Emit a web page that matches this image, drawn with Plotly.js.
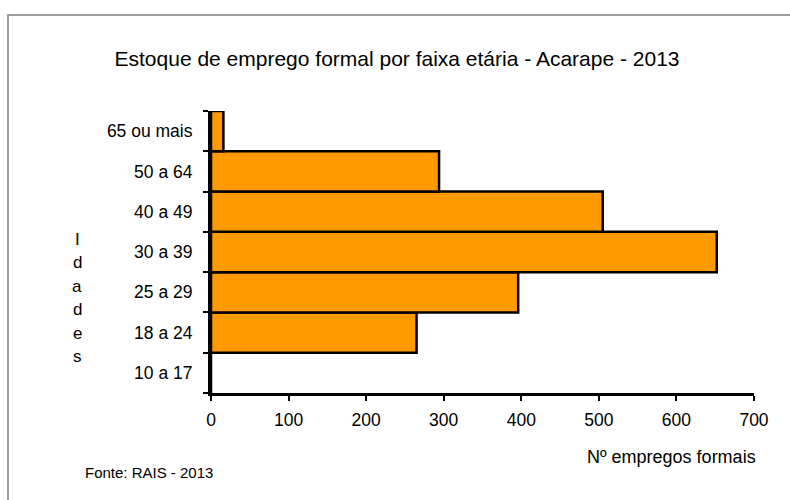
<!DOCTYPE html>
<html>
<head>
<meta charset="utf-8">
<script src="https://cdn.plot.ly/plotly-3.0.1.min.js"></script>
<style>html,body{margin:0;padding:0;background:#fff;}#chart{width:790px;height:500px;}</style>
</head>
<body>
<div id="chart"></div>
<script>
var categories = ["10 a 17", "18 a 24", "25 a 29", "30 a 39", "40 a 49", "50 a 64", "65 ou mais"];
var values = [0, 265, 396, 652, 505, 294, 16];
var xTicks = [0, 100, 200, 300, 400, 500, 600, 700];
var titleText = "Estoque de emprego formal por faixa etária - Acarape - 2013";
var xTitle = "Nº empregos formais";
var yTitle = "Idades";
var sourceText = "Fonte: RAIS - 2013";

var font = "Liberation Sans, Arial, sans-serif";

var trace = {
  type: "bar",
  orientation: "h",
  y: categories,
  x: values,
  marker: {color: "#FF9900", line: {color: "#000000", width: 2.5}},
  hoverinfo: "skip"
};

var annotations = [
  {text: xTitle, xref: "paper", yref: "paper", x: (758 - 211) / 543, y: (393 - 457) / 282, xanchor: "right", yanchor: "middle",
   showarrow: false, font: {family: font, size: 18, color: "#000"}},
  {text: sourceText, xref: "paper", yref: "paper", x: (83 - 211) / 543, y: (393 - 472) / 282, xanchor: "left", yanchor: "middle",
   showarrow: false, font: {family: font, size: 15, color: "#000"}}
];
var letters = yTitle.split("");
for (var i = 0; i < letters.length; i++) {
  var py = 239 + i * 23.5;
  annotations.push({text: letters[i], xref: "paper", yref: "paper", x: (77 - 211) / 543, y: (393 - py) / 282,
    xanchor: "center", yanchor: "middle", showarrow: false, font: {family: font, size: 17, color: "#000"}});
}

var layout = {
  width: 790, height: 500,
  margin: {l: 211, r: 36, t: 111, b: 107},
  paper_bgcolor: "#fff", plot_bgcolor: "#fff",
  showlegend: false,
  bargap: 0,
  title: {text: titleText, xref: "container", yref: "container", x: (113 + 681) / 2 / 790, y: 1 - 59 / 500,
          xanchor: "center", yanchor: "middle", font: {family: font, size: 21, color: "#000"}},
  xaxis: {range: [0, 700], tickvals: xTicks, ticktext: xTicks.map(String), showgrid: false, zeroline: false,
          showline: true, linecolor: "#000", linewidth: 3, ticks: "outside", ticklen: 5, tickwidth: 2, tickcolor: "#000",
          ticklabelstandoff: 4, tickfont: {family: font, size: 17.5, color: "#000"}, fixedrange: true},
  yaxis: {type: "category", categoryorder: "array", categoryarray: categories, showgrid: false, zeroline: false,
          showline: true, linecolor: "#000", linewidth: 3, ticks: "outside", tickson: "boundaries", ticklen: 5, tickwidth: 2,
          tickcolor: "#000", ticklabelstandoff: 12, tickfont: {family: font, size: 17.5, color: "#000"}, fixedrange: true},
  annotations: annotations,
  shapes: [{type: "rect", xref: "paper", yref: "paper", x0: (8 - 211) / 543, x1: (800 - 211) / 543,
            y0: (393 - 510) / 282, y1: (393 - 15) / 282, line: {color: "#808080", width: 1.5}, fillcolor: "rgba(0,0,0,0)", layer: "below"}]
};

Plotly.newPlot("chart", [trace], layout, {displayModeBar: false, staticPlot: true});
</script>
</body>
</html>
